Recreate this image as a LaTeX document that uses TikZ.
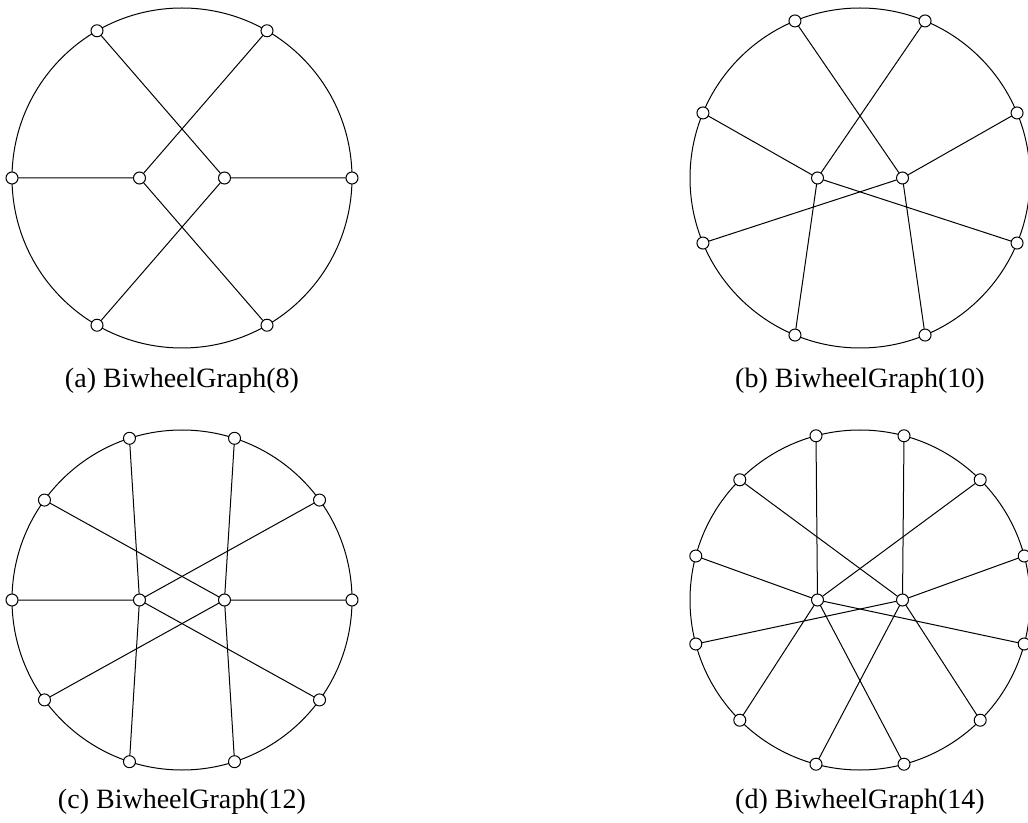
\documentclass[tikz,border=0pt]{standalone}
\usepackage{fontspec}
\setmainfont{Liberation Serif}
\begin{document}
\begin{tikzpicture}[x=0.5pt,y=0.5pt,line width=0.5pt,line cap=round,
  vtx/.style={circle,draw,fill=white,inner sep=0pt,minimum size=6pt},
  sublabel/.style={font=\fontsize{14}{16}\selectfont}]
\useasboundingbox (0,0) rectangle (1028,-823);
% (a) six outer vertices
\begin{scope}[shift={(182,-178)}]
\draw (0,0) circle (85pt);
\node[vtx] (a1) at (0:170) {};
\node[vtx] (a2) at (60:170) {};
\node[vtx] (a3) at (120:170) {};
\node[vtx] (a4) at (180:170) {};
\node[vtx] (a5) at (240:170) {};
\node[vtx] (a6) at (300:170) {};
\node[vtx] (aL) at (-42.5,0) {};
\node[vtx] (aR) at (42.5,0) {};
\draw (a1) -- (aR) (a3) -- (aR) (a5) -- (aR);
\draw (a2) -- (aL) (a4) -- (aL) (a6) -- (aL);
\node[sublabel] (capa) at (0,-203) {(a) BiwheelGraph(8)};
\end{scope}
% (b) eight outer vertices
\begin{scope}[shift={(860,-178)}]
\draw (0,0) circle (85pt);
\node[vtx] (b1) at (22.5:170) {};
\node[vtx] (b2) at (67.5:170) {};
\node[vtx] (b3) at (112.5:170) {};
\node[vtx] (b4) at (157.5:170) {};
\node[vtx] (b5) at (202.5:170) {};
\node[vtx] (b6) at (247.5:170) {};
\node[vtx] (b7) at (292.5:170) {};
\node[vtx] (b8) at (337.5:170) {};
\node[vtx] (bL) at (-42.5,0) {};
\node[vtx] (bR) at (42.5,0) {};
\draw (b1) -- (bR) (b3) -- (bR) (b5) -- (bR) (b7) -- (bR);
\draw (b2) -- (bL) (b4) -- (bL) (b6) -- (bL) (b8) -- (bL);
\node[sublabel] (capb) at (0,-203) {(b) BiwheelGraph(10)};
\end{scope}
% (c) ten outer vertices
\begin{scope}[shift={(182,-600)}]
\draw (0,0) circle (85pt);
\node[vtx] (c1) at (0:170) {};
\node[vtx] (c2) at (36:170) {};
\node[vtx] (c3) at (72:170) {};
\node[vtx] (c4) at (108:170) {};
\node[vtx] (c5) at (144:170) {};
\node[vtx] (c6) at (180:170) {};
\node[vtx] (c7) at (216:170) {};
\node[vtx] (c8) at (252:170) {};
\node[vtx] (c9) at (288:170) {};
\node[vtx] (c10) at (324:170) {};
\node[vtx] (cL) at (-42.5,0) {};
\node[vtx] (cR) at (42.5,0) {};
\draw (c1) -- (cR) (c3) -- (cR) (c5) -- (cR) (c7) -- (cR) (c9) -- (cR);
\draw (c2) -- (cL) (c4) -- (cL) (c6) -- (cL) (c8) -- (cL) (c10) -- (cL);
\node[sublabel] (capc) at (0,-202) {(c) BiwheelGraph(12)};
\end{scope}
% (d) twelve outer vertices
\begin{scope}[shift={(860,-600)}]
\draw (0,0) circle (85pt);
\node[vtx] (d1) at (15:170) {};
\node[vtx] (d2) at (45:170) {};
\node[vtx] (d3) at (75:170) {};
\node[vtx] (d4) at (105:170) {};
\node[vtx] (d5) at (135:170) {};
\node[vtx] (d6) at (165:170) {};
\node[vtx] (d7) at (195:170) {};
\node[vtx] (d8) at (225:170) {};
\node[vtx] (d9) at (255:170) {};
\node[vtx] (d10) at (285:170) {};
\node[vtx] (d11) at (315:170) {};
\node[vtx] (d12) at (345:170) {};
\node[vtx] (dL) at (-42.5,0) {};
\node[vtx] (dR) at (42.5,0) {};
\draw (d1) -- (dR) (d3) -- (dR) (d5) -- (dR) (d7) -- (dR) (d9) -- (dR) (d11) -- (dR);
\draw (d2) -- (dL) (d4) -- (dL) (d6) -- (dL) (d8) -- (dL) (d10) -- (dL) (d12) -- (dL);
\node[sublabel] (capd) at (0,-202) {(d) BiwheelGraph(14)};
\end{scope}
\end{tikzpicture}
\end{document}
